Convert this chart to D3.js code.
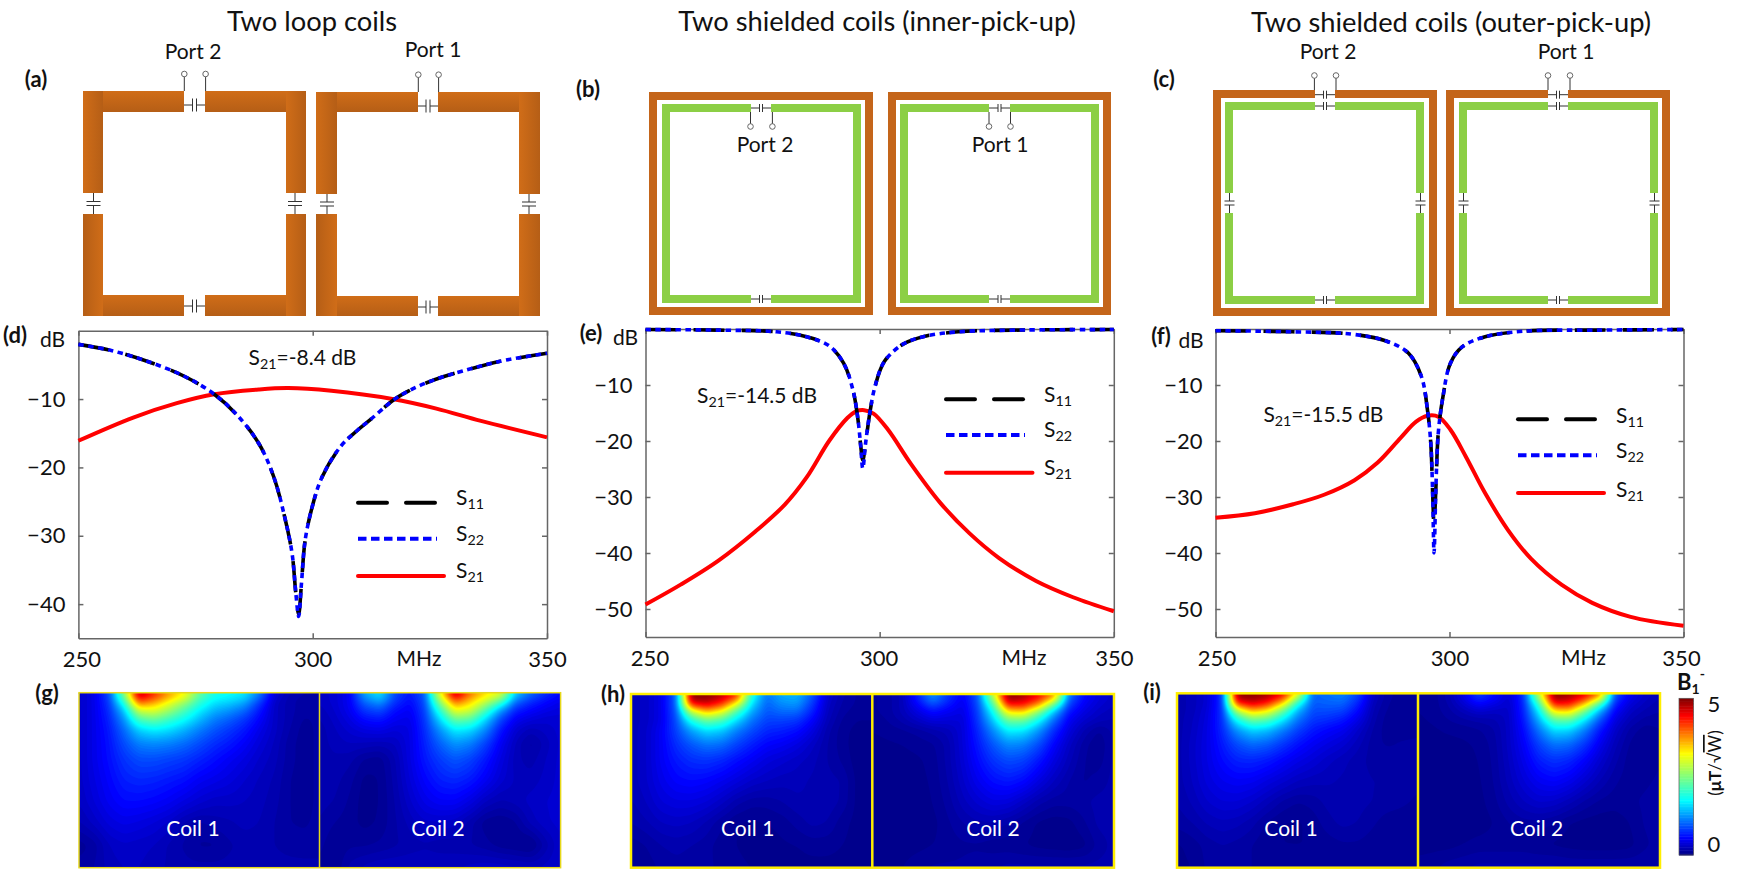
<!DOCTYPE html>
<html><head><meta charset="utf-8">
<script src="https://cdn.jsdelivr.net/npm/d3@7"></script>
<style>
html,body{margin:0;padding:0;background:#fff;overflow:hidden}
svg{display:block}
text{font-family:Lato,"Open Sans",sans-serif;fill:#111}
.axis text{font-family:Lato,sans-serif;font-size:22px;fill:#111}
.axis path,.axis line{stroke:#666;stroke-width:1.5}
</style></head><body>
<svg id="c" width="1741" height="876" viewBox="0 0 1741 876"></svg>
<script>
// ---------- data ----------
const xTicks=[250,300,350];
const yTicksD=[-10,-20,-30,-40];
const yTicksEF=[-10,-20,-30,-40,-50];

const f11_d=[250,257,264.8,272.7,279,283.8,288.5,291.7,294,295.6,296.4,297,297.6,298.4,300,302,306,309.5,312.5,317.3,320.5,324,328,332,339.8,350];
const s11_d=[-2,-2.9,-4.5,-6.7,-9.3,-12.3,-16.5,-21.4,-27.2,-32.6,-38.4,-41.5,-37,-30.6,-25.5,-21.4,-16.9,-14.6,-12.9,-10.1,-8.8,-7.7,-6.7,-5.9,-4.5,-3.3];
const s22_d=[-2,-2.9,-4.5,-6.7,-9.3,-12.3,-16.5,-21.4,-27.2,-32.6,-38.4,-41.8,-37,-30.6,-25.5,-21.4,-16.9,-14.6,-12.9,-10.1,-8.8,-7.7,-6.7,-5.9,-4.5,-3.3];
const f21_d=[250,261.7,271,279,288.5,294.8,304,317,326.4,335.9,350];
const s21_d=[-16.1,-12.7,-10.6,-9.3,-8.6,-8.4,-8.8,-10,-11.4,-13.2,-15.6];

const f11_e=[250,265.5,278,284.4,289.2,292.3,294.3,295.3,295.9,296.4,297,297.9,299,301,305,309.7,316.8,328.7,350];
const s11_e=[-0.1,-0.2,-0.5,-1.4,-3,-6.1,-10.9,-15.7,-20.4,-23.4,-20.4,-15,-10.3,-5.8,-2.7,-1.3,-0.5,-0.2,-0.1];
const s22_e=[-0.1,-0.2,-0.5,-1.4,-3,-6.1,-10.9,-15.7,-20.4,-24.9,-20.4,-15,-10.3,-5.8,-2.7,-1.3,-0.5,-0.2,-0.1];
const f21_e=[250,257.6,265.5,273.4,279.7,284.4,289.2,293.1,295,296.7,298.7,301.8,306.6,312.9,319.2,325.5,333.4,341.3,350];
const s21_e=[-49.2,-45.6,-41.4,-36.2,-31.4,-26.5,-20,-15.9,-14.7,-14.5,-15.1,-18,-24,-31,-36.5,-40.9,-45,-47.9,-50.4];

const f11_f=[250,266.6,278.9,286.3,291.2,294,295.3,296,296.4,296.7,297.1,297.6,298.6,300.2,302.7,307.6,315.8,332,350];
const s11_f=[-0.3,-0.5,-0.9,-2.1,-4.3,-8.5,-14.5,-20.4,-29.3,-35,-28.2,-18.6,-12.1,-6.1,-3.2,-1.4,-0.4,-0.2,-0.1];
const s22_f=[-0.3,-0.5,-0.9,-2.1,-4.3,-8.5,-14.5,-20.4,-29.3,-40,-28.2,-18.6,-12.1,-6.1,-3.2,-1.4,-0.4,-0.2,-0.1];
const f21_f=[250,258.4,266.6,273.2,279.7,284.6,289.6,292.8,295.3,297.7,300.2,303.5,307.6,312.5,317.4,324,330.5,338.7,350];
const s21_f=[-33.7,-32.9,-31.3,-29.6,-27,-23.9,-19.4,-16.6,-15.5,-15.7,-18,-22.8,-29.3,-35.9,-41,-45.7,-48.9,-51.4,-53];

// field maps: rows top to bottom at rowFrac, 17 columns left to right, values in uT/sqrt(W)
const rowFrac=[0,.03,.06,.1,.15,.21,.29,.38,.5,.62,.74,.87,1];
const mapG1=[
[.3,.45,.9,2.6,4.9,4.3,3.7,3.3,2.4,1.9,1.8,1.7,1.2,.4,.25,.2,.2],
[.3,.45,.85,2.3,4.5,4.1,3.6,3.1,2.2,1.8,1.7,1.55,1,.35,.2,.15,.15],
[.3,.45,.8,1.9,3.9,3.6,3.1,2.6,2,1.6,1.5,1.3,.8,.3,.2,.15,.15],
[.3,.45,.75,1.5,3,3.1,2.7,2.2,1.7,1.4,1.25,1.05,.65,.3,.2,.15,.15],
[.3,.45,.7,1.25,2.2,2.4,2.1,1.8,1.45,1.15,1,.8,.55,.3,.2,.12,.15],
[.3,.45,.65,1.05,1.55,1.7,1.6,1.4,1.15,.95,.8,.65,.45,.3,.18,.1,.15],
[.3,.45,.62,.9,1.15,1.2,1.15,1.05,.9,.75,.65,.52,.38,.27,.15,.1,.15],
[.3,.45,.6,.78,.9,.9,.85,.8,.7,.6,.5,.42,.32,.25,.15,.1,.15],
[.3,.42,.55,.68,.72,.7,.65,.6,.5,.45,.4,.33,.27,.22,.13,.1,.15],
[.28,.38,.5,.58,.58,.55,.5,.42,.35,.3,.3,.28,.25,.2,.13,.1,.15],
[.22,.3,.4,.45,.42,.38,.32,.22,.17,.2,.22,.25,.23,.18,.13,.12,.15],
[.1,.15,.28,.32,.3,.28,.22,.17,.12,.12,.17,.2,.2,.18,.16,.15,.15],
[.15,.18,.25,.28,.28,.25,.22,.2,.2,.2,.2,.2,.2,.2,.2,.2,.2]];
const mapG2=[
[.3,.35,.5,1.4,1.7,.9,.65,1,3.3,4.9,4,3.5,3.2,1.6,1.1,.8,.6],
[.3,.35,.5,1.2,1.5,.85,.6,.95,2.9,4.4,3.7,3.2,2.7,1.3,.9,.65,.5],
[.28,.35,.5,1,1.2,.75,.55,.9,2.5,3.8,3.4,2.8,2,1,.7,.55,.45],
[.25,.33,.48,.8,.9,.6,.5,.85,2,3.2,3,2.2,1.3,.7,.55,.45,.4],
[.22,.3,.42,.6,.65,.5,.45,.8,1.6,2.4,2.3,1.6,.9,.5,.4,.35,.35],
[.2,.27,.35,.42,.45,.38,.42,.75,1.25,1.7,1.6,1.2,.65,.35,.25,.3,.35],
[.2,.25,.28,.27,.25,.28,.42,.7,1,1.25,1.15,.85,.5,.27,.15,.25,.35],
[.2,.22,.2,.12,.1,.22,.42,.65,.82,.95,.85,.65,.42,.25,.2,.28,.35],
[.2,.2,.15,.06,.08,.2,.38,.55,.68,.72,.65,.5,.35,.27,.25,.3,.35],
[.2,.18,.12,.05,.08,.18,.32,.45,.52,.52,.42,.28,.22,.25,.3,.33,.35],
[.18,.13,.1,.06,.09,.17,.25,.32,.32,.3,.2,.1,.08,.12,.25,.32,.35],
[.15,.08,.12,.12,.14,.17,.2,.22,.2,.2,.18,.15,.1,.08,.05,.2,.33],
[.12,.08,.2,.25,.28,.28,.28,.28,.28,.28,.3,.32,.32,.3,.28,.3,.33]];
const mapH1=[
[.25,.3,.45,1,5,5,4.8,4.4,2,1.1,1.4,1.45,1,.35,.2,.12,.12],
[.25,.3,.45,1,4.9,4.9,4.6,3.9,1.8,1.05,1.3,1.35,.9,.33,.18,.12,.12],
[.25,.3,.45,1,4.3,4.6,4.2,3.1,1.6,1,1.2,1.25,.8,.3,.17,.12,.12],
[.25,.3,.45,.95,2.9,3.6,3.2,2.2,1.35,.95,1.05,1.05,.7,.28,.15,.1,.1],
[.25,.3,.45,.9,1.9,2.4,2.2,1.6,1.1,.85,.85,.8,.55,.25,.12,.08,.08],
[.25,.32,.5,.85,1.3,1.6,1.5,1.15,.9,.72,.68,.6,.42,.2,.1,.06,.06],
[.25,.32,.5,.75,.95,1.1,1.05,.85,.68,.55,.5,.42,.3,.18,.1,.05,.05],
[.25,.32,.5,.65,.75,.78,.72,.6,.5,.4,.35,.3,.25,.18,.12,.05,.05],
[.25,.32,.45,.55,.58,.55,.48,.4,.32,.28,.25,.25,.22,.2,.18,.06,.05],
[.22,.28,.38,.42,.42,.38,.3,.2,.15,.15,.18,.22,.22,.22,.17,.06,.05],
[.18,.22,.28,.3,.28,.22,.14,.08,.07,.08,.1,.15,.2,.18,.1,.06,.05],
[.1,.13,.18,.2,.18,.15,.1,.08,.05,.05,.07,.08,.1,.1,.08,.06,.05],
[.1,.1,.14,.16,.15,.14,.12,.1,.08,.06,.06,.06,.06,.06,.06,.06,.06]];
const mapH2=[
[.12,.15,.25,.7,1.3,.8,.5,1,3,5,4.9,4.5,4,1.2,.6,.4,.3],
[.12,.15,.25,.65,1.15,.75,.48,.95,2.6,4.9,4.7,4.3,3.4,1,.55,.38,.3],
[.12,.15,.25,.55,.9,.65,.45,.9,2.2,4.4,4.4,3.8,2.4,.85,.5,.35,.28],
[.12,.15,.25,.42,.6,.5,.42,.85,1.8,3.4,3.5,2.6,1.5,.65,.42,.3,.25],
[.1,.13,.2,.3,.4,.38,.38,.8,1.5,2.4,2.4,1.8,1.05,.5,.33,.25,.22],
[.08,.1,.12,.15,.2,.25,.38,.72,1.2,1.7,1.65,1.25,.75,.4,.22,.12,.2],
[.06,.07,.08,.1,.12,.2,.38,.65,.95,1.2,1.15,.9,.55,.3,.15,.08,.2],
[.05,.05,.06,.07,.1,.2,.36,.58,.78,.9,.85,.65,.42,.25,.13,.1,.2],
[.05,.05,.05,.06,.09,.18,.32,.48,.6,.65,.58,.42,.28,.18,.12,.15,.2],
[.05,.05,.05,.05,.08,.15,.26,.35,.42,.4,.3,.2,.15,.15,.17,.2,.2],
[.05,.05,.05,.05,.06,.12,.18,.22,.22,.18,.12,.07,.05,.06,.12,.2,.2],
[.05,.05,.05,.06,.08,.1,.12,.12,.1,.1,.08,.06,.05,.04,.06,.15,.2],
[.05,.06,.08,.12,.14,.14,.14,.16,.18,.2,.2,.2,.2,.2,.2,.2,.2]];
const mapI1=[
[.2,.25,.35,.75,5,5,4.9,4.6,3.4,1,1.1,1.2,.9,.3,.15,.1,.1],
[.2,.25,.35,.75,4.8,4.9,4.7,4.1,2.6,1,1.05,1.1,.8,.28,.14,.1,.1],
[.2,.25,.35,.75,4.2,4.6,4.3,3.4,1.9,.95,1,1,.7,.25,.13,.1,.1],
[.2,.25,.38,.75,2.8,3.6,3.3,2.4,1.4,.9,.9,.85,.58,.22,.12,.09,.1],
[.2,.27,.4,.75,1.85,2.4,2.25,1.7,1.1,.8,.75,.65,.45,.2,.1,.08,.1],
[.2,.28,.42,.72,1.25,1.55,1.45,1.15,.85,.65,.55,.48,.32,.17,.1,.1,.12],
[.2,.3,.43,.65,.9,1.05,.98,.8,.62,.5,.42,.35,.25,.15,.12,.14,.14],
[.2,.3,.43,.58,.7,.72,.66,.55,.45,.38,.3,.25,.2,.16,.16,.16,.14],
[.2,.28,.4,.48,.52,.5,.42,.35,.28,.25,.24,.22,.2,.18,.18,.16,.14],
[.18,.24,.33,.38,.38,.33,.25,.17,.13,.15,.2,.22,.2,.18,.16,.14,.12],
[.15,.18,.24,.27,.25,.2,.12,.08,.07,.1,.16,.2,.18,.14,.1,.1,.1],
[.07,.1,.15,.18,.16,.13,.08,.08,.08,.08,.1,.12,.12,.1,.08,.08,.08],
[.06,.08,.14,.16,.15,.13,.1,.1,.1,.1,.1,.1,.1,.1,.1,.1,.1]];
const mapI2=[
[.08,.1,.2,.45,.9,.6,.35,.8,3,5,4.9,4.6,4.1,1,.5,.32,.25],
[.08,.1,.2,.42,.75,.55,.33,.75,2.6,4.9,4.75,4.3,3.3,.85,.45,.3,.22],
[.08,.1,.18,.35,.55,.45,.32,.72,2.1,4.4,4.4,3.6,2.2,.72,.38,.26,.2],
[.08,.1,.16,.25,.35,.3,.3,.7,1.7,3.4,3.5,2.5,1.4,.55,.3,.22,.18],
[.07,.09,.13,.17,.2,.22,.3,.65,1.4,2.3,2.35,1.7,.95,.42,.24,.16,.15],
[.06,.07,.09,.1,.12,.17,.3,.58,1.1,1.6,1.55,1.15,.65,.32,.16,.1,.13],
[.05,.06,.06,.07,.09,.15,.3,.52,.85,1.1,1.05,.8,.48,.25,.12,.08,.13],
[.05,.05,.05,.06,.08,.14,.28,.46,.68,.78,.72,.55,.35,.2,.1,.09,.13],
[.05,.05,.05,.05,.07,.13,.25,.38,.5,.55,.48,.35,.23,.14,.1,.12,.14],
[.05,.05,.05,.05,.06,.11,.2,.28,.34,.32,.25,.17,.12,.1,.12,.14,.15],
[.05,.05,.05,.05,.05,.08,.13,.16,.16,.13,.08,.06,.05,.05,.08,.14,.15],
[.06,.06,.06,.08,.1,.1,.1,.1,.08,.07,.06,.05,.05,.05,.06,.12,.15],
[.1,.12,.16,.18,.2,.2,.2,.2,.2,.2,.18,.18,.18,.18,.18,.18,.18]];

// ---------- page ----------
const svg=d3.select('#c');
const defs=svg.append('defs');
function grad(id,x2,y2,a,b){
  const g=defs.append('linearGradient').attr('id',id).attr('x1',0).attr('y1',0).attr('x2',x2).attr('y2',y2);
  g.append('stop').attr('offset',0).attr('stop-color',a);
  g.append('stop').attr('offset',1).attr('stop-color',b);
}
const CL='#d06d18',CD='#b55e16';
grad('cuH',0,1,CL,CD); grad('cuLR',1,0,CL,CD); grad('cuRL',1,0,CD,CL);

function txt(x,y,s,size,opt={}){
  const t=svg.append('text').attr('x',x).attr('y',y).attr('font-size',size).text(s);
  t.attr('text-anchor',opt.anchor||'middle');
  if(opt.bold)t.attr('font-weight',700);
  if(opt.fill)t.style('fill',opt.fill);
  return t;
}
function subTxt(x,y,pre,sub,post,size){
  const t=svg.append('text').attr('x',x).attr('y',y).attr('font-size',size);
  t.append('tspan').text(pre);
  t.append('tspan').attr('dy',4).attr('font-size',size*.68).text(sub);
  if(post)t.append('tspan').attr('dy',-4).text(post);
}
const g=svg.append('g');
function R(x0,y0,x1,y1,fill){g.append('rect').attr('x',x0).attr('y',y0).attr('width',x1-x0).attr('height',y1-y0).attr('fill',fill);}
function capH(x0,x1,y,h=6.5,s=2){
  const c=(x0+x1)/2;
  [[x0,c-s,y,y],[c+s,x1,y,y],[c-s,c-s,y-h,y+h],[c+s,c+s,y-h,y+h]].forEach(l=>
    g.append('line').attr('x1',l[0]).attr('x2',l[1]).attr('y1',l[2]).attr('y2',l[3]).attr('stroke','#333').attr('stroke-width',1));
}
function capV(x,y0,y1,h=7){
  const c=(y0+y1)/2;
  [[x,x,y0,c-2],[x,x,c+2,y1],[x-h,x+h,c-2,c-2],[x-h,x+h,c+2,c+2]].forEach(l=>
    g.append('line').attr('x1',l[0]).attr('x2',l[1]).attr('y1',l[2]).attr('y2',l[3]).attr('stroke','#333').attr('stroke-width',1));
}
function port(x,y0,y1){
  g.append('line').attr('x1',x).attr('x2',x).attr('y1',y0).attr('y2',y1).attr('stroke','#333').attr('stroke-width',1);
  g.append('circle').attr('cx',x).attr('cy',y1).attr('r',2.8).attr('fill','#fff').attr('stroke','#666').attr('stroke-width',1);
}
// (a) bare loops
function loop(x0,x1,y0,y1,gx0,gx1,sy0,sy1,w,hh,capTopY,capBotY,capLX,capRX,termY){
  R(x0,y0,gx0,y0+hh,'url(#cuH)');R(gx1,y0,x1,y0+hh,'url(#cuH)');
  R(x0,y1-hh,gx0,y1,'url(#cuH)');R(gx1,y1-hh,x1,y1,'url(#cuH)');
  R(x0,y0,x0+w,sy0,'url(#cuLR)');R(x0,sy1,x0+w,y1,'url(#cuRL)');
  R(x1-w,y0,x1,sy0,'url(#cuLR)');R(x1-w,sy1,x1,y1,'url(#cuLR)');
  capH(gx0,gx1,capTopY);capH(gx0,gx1,capBotY);
  capV(capLX,sy0,sy1);capV(capRX,sy0,sy1);
  port(gx0+.3,y0,termY);port(gx1+.6,y0,termY);
}
loop(83,306,91,316,184,205,193,214,20,21,105,306,93.5,295,74);
loop(316,540,92,316,418,438,194,214,21,20,106,307,327,529,74.7);

const SH='#c4651a',GR='#8ccf45';
function frame(x0,x1,y0,y1,t,topGap,fill){
  if(topGap){R(x0,y0,topGap[0],y0+t,fill);R(topGap[1],y0,x1,y0+t,fill);}
  else R(x0,y0,x1,y0+t,fill);
  R(x0,y1-t,x1,y1,fill);R(x0,y0,x0+t,y1,fill);R(x1-t,y0,x1,y1,fill);
}
function greenLoop(x0,x1,y0,y1,gap,side){
  const t=8;
  R(x0,y0,gap[0],y0+t,GR);R(gap[1],y0,x1,y0+t,GR);
  R(x0,y1-t,gap[0],y1,GR);R(gap[1],y1-t,x1,y1,GR);
  if(side){
    R(x0,y0,x0+t,side[0],GR);R(x0,side[1],x0+t,y1,GR);
    R(x1-t,y0,x1,side[0],GR);R(x1-t,side[1],x1,y1,GR);
    capV(x0+4.5,side[0],side[1],5);capV(x1-3.5,side[0],side[1],5);
  } else {R(x0,y0,x0+t,y1,GR);R(x1-t,y0,x1,y1,GR);}
  capH(gap[0],gap[1],y0+4,4,1.5);capH(gap[0],gap[1],y1-4,4,1.5);
}
// (b)
frame(649,873,92,315,8,null,SH);greenLoop(662,861,104,303,[751,771]);
port(750.5,112,126.5);port(772.4,112,126.5);
frame(888,1111,92,315,8,null,SH);greenLoop(900,1099,104,303,[989,1010]);
port(989,112,126.5);port(1010.5,112,126.5);
// (c)
frame(1213,1437,90,316,8,[1315,1335],SH);greenLoop(1225,1424,102,304,[1315,1335],[193,213]);
capH(1315,1335,94.7,4,1.5);port(1314.4,90,75.5);port(1336,90,75.5);
frame(1446,1670,90,316,8,[1548,1568],SH);greenLoop(1459,1658,102,304,[1548,1568],[193,213]);
capH(1548,1568,94.7,4,1.5);port(1548,90,75.5);port(1570,90,75.5);

// titles and labels
txt(312,31,'Two loop coils',27.3);
txt(877,31,'Two shielded coils (inner-pick-up)',27.3);
txt(1451,32,'Two shielded coils (outer-pick-up)',27.3);
txt(193,59,'Port 2',21);txt(433,57,'Port 1',21);
txt(765,152,'Port 2',21);txt(1000,152,'Port 1',21);
txt(1328,59,'Port 2',21);txt(1566,59,'Port 1',21);
[['(a)',36,87],['(b)',588,97],['(c)',1164,87],['(d)',15,343],['(e)',591,341],['(f)',1161,344],['(g)',47,701],['(h)',613,702],['(i)',1152,700]]
 .forEach(d=>txt(d[1],d[2],d[0],22,{bold:true}));

// S-parameter plots
const curve=d3.line().curve(d3.curveCatmullRom.alpha(0.5));
function plot(p){
  const x=d3.scaleLinear().domain([250,350]).range([p.x0,p.x1]);
  const y=d3.scaleLinear().domain(p.dom).range([p.y0,p.y1]);
  const G=svg.append('g');
  const ax=G.append('g').attr('class','axis').attr('transform',`translate(0,${p.y1})`)
    .call(d3.axisBottom(x).tickValues(xTicks).tickSize(-5).tickSizeOuter(0).tickPadding(13).tickFormat(d3.format('d')));
  ax.selectAll('.tick text').attr('dx',(d,i)=>p.nudge[i]);
  G.append('g').attr('class','axis').attr('transform',`translate(${p.x0},0)`)
    .call(d3.axisLeft(y).tickValues(p.yt).tickSize(-5).tickSizeOuter(0).tickPadding(13).tickFormat(d3.format('d')));
  G.append('g').attr('class','axis').attr('transform',`translate(0,${p.y0})`)
    .call(d3.axisTop(x).tickValues(xTicks).tickSize(-5).tickSizeOuter(0).tickFormat(''));
  G.append('g').attr('class','axis').attr('transform',`translate(${p.x1},0)`)
    .call(d3.axisRight(y).tickValues(p.yt).tickSize(-5).tickSizeOuter(0).tickFormat(''));
  G.selectAll('.axis text').style('font-family','Lato,sans-serif');
  const pts=(fs,vs)=>fs.map((f,i)=>[x(f),y(vs[i])]);
  G.append('path').attr('d',curve(pts(p.f21,p.s21))).attr('fill','none').attr('stroke','#ff0000').attr('stroke-width',4);
  G.append('path').attr('d',curve(pts(p.f11,p.s11))).attr('fill','none').attr('stroke','#000').attr('stroke-width',3.6).attr('stroke-dasharray','31 17');
  G.append('path').attr('d',curve(pts(p.f11,p.s22))).attr('fill','none').attr('stroke','#0000ff').attr('stroke-width',3.6).attr('stroke-dasharray','5.5 4.5');
  // legend
  const L=p.leg;
  G.append('line').attr('x1',L.x0).attr('x2',L.x1).attr('y1',L.y[0]).attr('y2',L.y[0]).attr('stroke','#000').attr('stroke-width',4).attr('stroke-linecap','round').attr('stroke-dasharray','29 19');
  G.append('line').attr('x1',L.x0).attr('x2',L.x1).attr('y1',L.y[1]).attr('y2',L.y[1]).attr('stroke','#0000ff').attr('stroke-width',4).attr('stroke-dasharray','8.5 4.5');
  G.append('line').attr('x1',L.x0).attr('x2',L.x2).attr('y1',L.y[2]).attr('y2',L.y[2]).attr('stroke','#ff0000').attr('stroke-width',4).attr('stroke-linecap','round');
  subTxt(L.tx,L.ty[0],'S','11','',21);subTxt(L.tx,L.ty[1],'S','22','',21);subTxt(L.tx,L.ty[2],'S','21','',21);
  subTxt(p.ann[0],p.ann[1],'S','21','='+p.ann[2]+' dB',21);
  txt(p.db[0],p.db[1],'dB',21);
  txt(p.mhz[0],p.mhz[1],'MHz',21);
}
plot({x0:78.4,x1:547,y0:330.7,y1:638.3,dom:[0,-45],yt:yTicksD,nudge:[3,0,0],
  f11:f11_d,s11:s11_d,s22:s22_d,f21:f21_d,s21:s21_d,
  leg:{x0:358,x1:437,x2:444,y:[502.7,538.7,576],tx:456,ty:[505,541,578]},
  ann:[248.6,365,'-8.4'],db:[52.5,347],mhz:[419,666]});
plot({x0:645.5,x1:1113.8,y0:329,y1:637,dom:[0,-55],yt:yTicksEF,nudge:[4,-1,0],
  f11:f11_e,s11:s11_e,s22:s22_e,f21:f21_e,s21:s21_e,
  leg:{x0:946,x1:1025,x2:1032.5,y:[399.3,435,472.7],tx:1044,ty:[402,437,475]},
  ann:[697,403,'-14.5'],db:[625.5,345],mhz:[1024,665]});
plot({x0:1215.5,x1:1683.5,y0:329,y1:637,dom:[0,-55],yt:yTicksEF,nudge:[1,0,-2.5],
  f11:f11_f,s11:s11_f,s22:s22_f,f21:f21_f,s21:s21_f,
  leg:{x0:1518,x1:1597,x2:1604,y:[419.3,455.3,493],tx:1616,ty:[423,458,497]},
  ann:[1263.4,421.7,'-15.5'],db:[1191,348],mhz:[1583.5,665]});

// field maps
const jet=d3.scaleLinear().domain([0,.55,1.75,3.25,4.45,5])
  .range(['#00007f','#0000ff','#00ffff','#ffff00','#ff0000','#7f0000']).clamp(true);
const W=160,H=116;
function upsample(m){
  const out=new Float64Array(W*H),nc=m[0].length;
  for(let j=0;j<H;j++){
    const fy=(j+.5)/H;
    let r=d3.bisectRight(rowFrac,fy)-1;r=Math.min(r,rowFrac.length-2);
    const ty=(fy-rowFrac[r])/(rowFrac[r+1]-rowFrac[r]);
    for(let i=0;i<W;i++){
      const fx=(i+.5)/W*(nc-1),c=Math.min(Math.floor(fx),nc-2),tx=fx-c;
      out[j*W+i]=(1-ty)*((1-tx)*m[r][c]+tx*m[r][c+1])+ty*((1-tx)*m[r+1][c]+tx*m[r+1][c+1]);
    }
  }
  if(d3.blur2)d3.blur2({data:out,width:W,height:H},1.5);
  return out;
}
const levels=d3.range(.03,5,.05);
const cg=d3.contours().size([W,H]).thresholds(levels);
function fieldMap(x0,x1,y0,y1,m){
  const x=d3.scaleLinear().domain([0,W]).range([x0,x1]);
  const y=d3.scaleLinear().domain([0,H]).range([y0,y1]);
  const proj=d3.geoTransform({point(a,b){this.stream.point(x(a),y(b));}});
  const path=d3.geoPath(proj);
  const G=svg.append('g');
  G.append('rect').attr('x',x0).attr('y',y0).attr('width',x1-x0).attr('height',y1-y0).attr('fill',jet(.02));
  G.selectAll('path').data(cg(upsample(m))).join('path').attr('d',path).attr('fill',d=>jet(d.value+.025));
}
function panel(x0,xm,x1,y0,y1,m1,m2,bw,col,cx1,cx2){
  fieldMap(x0,xm,y0,y1,m1);fieldMap(xm,x1,y0,y1,m2);
  svg.append('rect').attr('x',x0).attr('y',y0).attr('width',x1-x0).attr('height',y1-y0).attr('fill','none').attr('stroke',col).attr('stroke-width',bw);
  svg.append('line').attr('x1',xm).attr('x2',xm).attr('y1',y0).attr('y2',y1).attr('stroke',col).attr('stroke-width',bw);
  txt(cx1,836,'Coil 1',21,{fill:'#fff'});txt(cx2,836,'Coil 2',21,{fill:'#fff'});
}
panel(79,319.5,560.6,692.7,867.7,mapG1,mapG2,1.5,'#e6d81a',193,438);
panel(631,872.3,1114,694,867.7,mapH1,mapH2,2.5,'#ffee00',747.7,993);
panel(1177,1418,1660,693.3,867.7,mapI1,mapI2,2.5,'#ffee00',1291,1536.6);

// colour bar
const cbY=d3.scaleLinear().domain([0,5]).range([855,698.3]);
const cb=svg.append('g');
cb.selectAll('rect').data(d3.range(0,5,.05)).join('rect')
  .attr('x',1679).attr('width',14.5).attr('y',d=>cbY(d+.05)).attr('height',d=>cbY(d)-cbY(d+.05)+.5).attr('fill',d=>jet(d+.025));
cb.append('rect').attr('x',1679).attr('y',698.3).attr('width',14.5).attr('height',156.7).attr('fill','none').attr('stroke','#555').attr('stroke-width',.7);
txt(1714,712,'5',22);txt(1714,852,'0',22);
const bt=svg.append('text').attr('x',1677).attr('y',690).attr('font-size',22).attr('font-weight',700);
bt.append('tspan').text('B');
bt.append('tspan').attr('dy',4).attr('font-size',14).text('1');
bt.append('tspan').attr('dy',-15).attr('font-size',14).text('-');
const ut=svg.append('text').attr('transform','translate(1721,763) rotate(-90)').attr('text-anchor','middle').attr('font-size',17);
ut.append('tspan').text('(');
ut.append('tspan').attr('font-weight',700).text('μT');
ut.append('tspan').text('/√');
ut.append('tspan').style('text-decoration','overline').text('W');
ut.append('tspan').text(')');
</script>
</body></html>
